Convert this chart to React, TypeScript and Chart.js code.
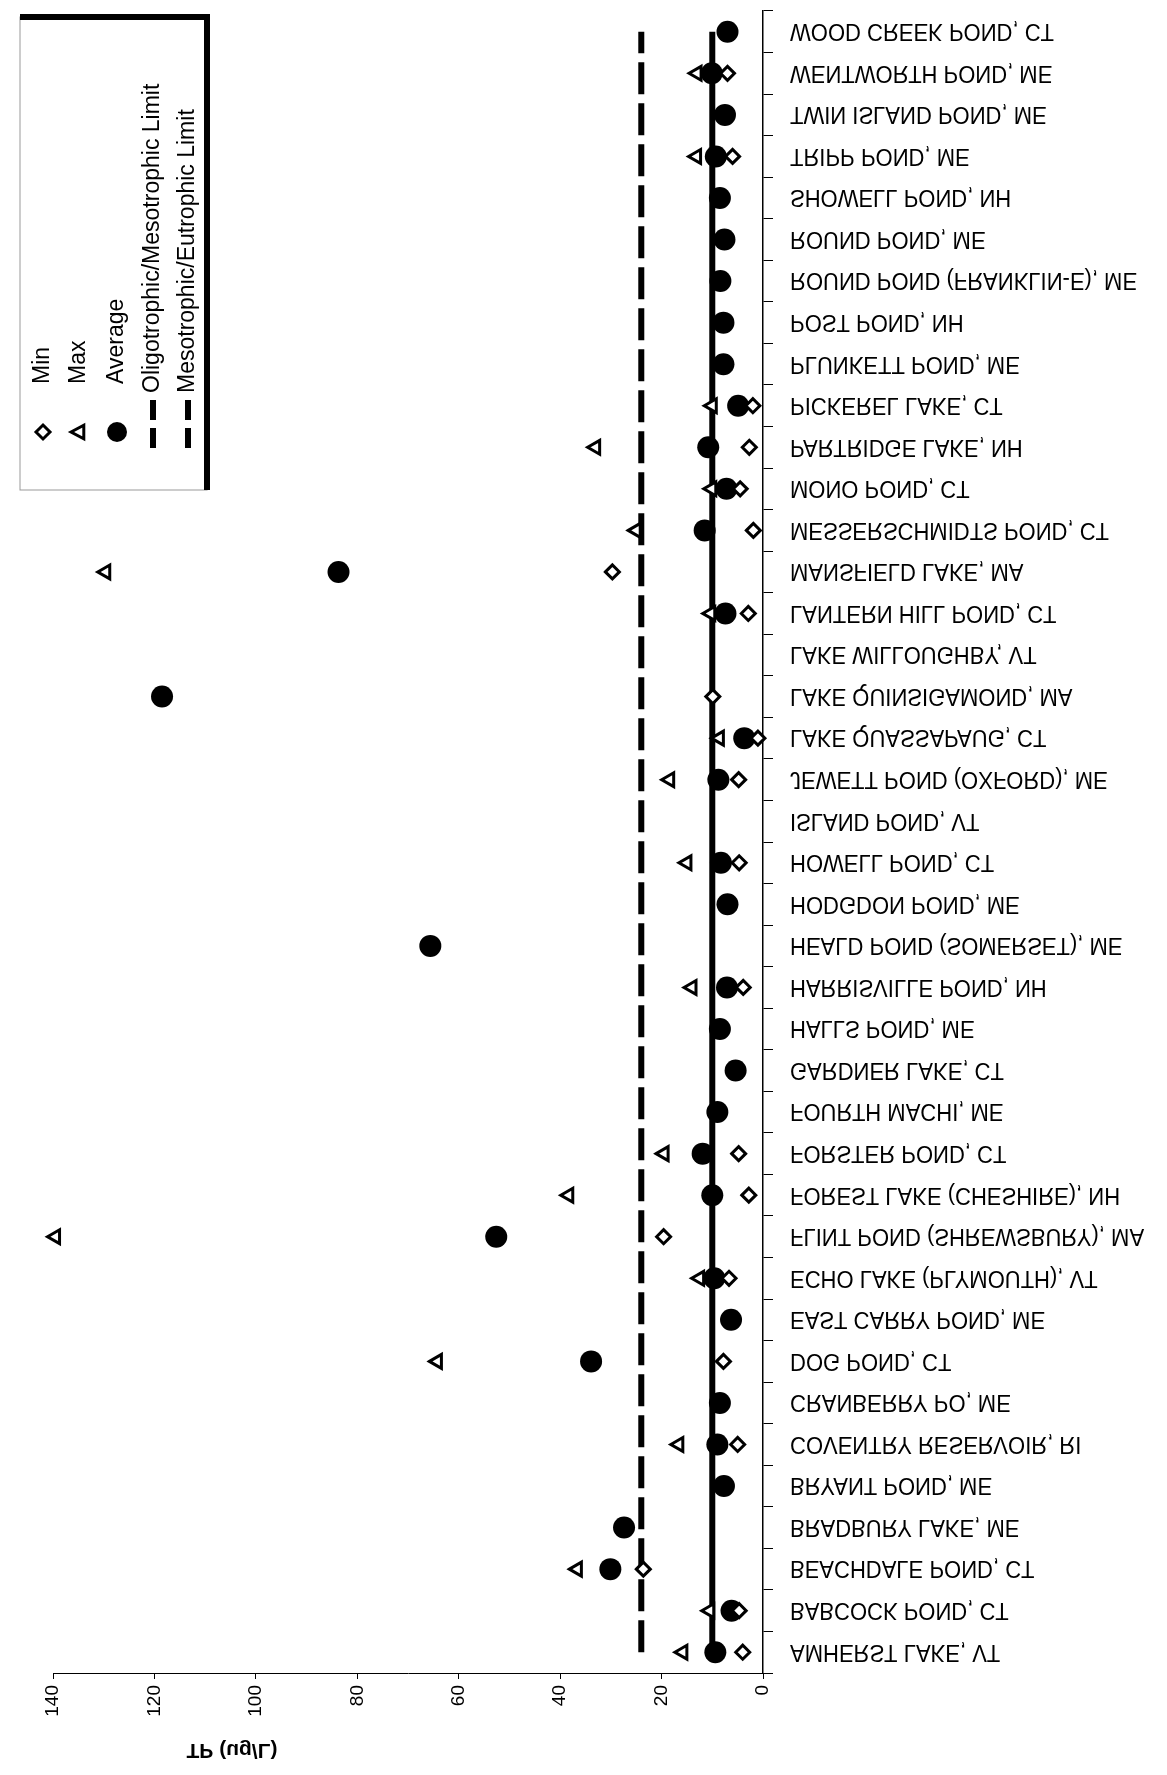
import React, { useEffect, useRef } from "react";
import { Chart, registerables } from "chart.js";

Chart.register(...registerables);

// ---- data (order: AMHERST ... WOOD CREEK) ----
const lakes = [
  "AMHERST LAKE, VT",
  "BABCOCK POND, CT",
  "BEACHDALE POND, CT",
  "BRADBURY LAKE, ME",
  "BRYANT POND, ME",
  "COVENTRY RESERVOIR, RI",
  "CRANBERRY PO, ME",
  "DOG POND, CT",
  "EAST CARRY POND, ME",
  "ECHO LAKE (PLYMOUTH), VT",
  "FLINT POND (SHREWSBURY), MA",
  "FOREST LAKE (CHESHIRE), NH",
  "FORSTER POND, CT",
  "FOURTH MACHI, ME",
  "GARDNER LAKE, CT",
  "HALLS POND, ME",
  "HARRISVILLE POND, NH",
  "HEALD POND (SOMERSET), ME",
  "HODGDON POND, ME",
  "HOWELL POND, CT",
  "ISLAND POND, VT",
  "JEWETT POND (OXFORD), ME",
  "LAKE QUASSAPAUG, CT",
  "LAKE QUINSIGAMOND, MA",
  "LAKE WILLOUGHBY, VT",
  "LANTERN HILL POND, CT",
  "MANSFIELD LAKE, MA",
  "MESSERSCHMIDTS POND, CT",
  "MONO POND, CT",
  "PARTRIDGE LAKE, NH",
  "PICKEREL LAKE, CT",
  "PLUNKETT POND, ME",
  "POST POND, NH",
  "ROUND POND (FRANKLIN-E), ME",
  "ROUND POND, ME",
  "SHOWELL POND, NH",
  "TRIPP POND, ME",
  "TWIN ISLAND POND, ME",
  "WENTWORTH POND, ME",
  "WOOD CREEK POND, CT",
];

const minTP = [
  4.0, 4.7, 23.6, null, null, 5.0, null, 7.8, null, 6.7,
  19.6, 2.8, 4.8, null, null, null, 3.9, null, null, 4.7,
  null, 4.8, 1.0, 9.9, null, 2.9, 29.7, 1.9, 4.5, 2.7,
  2.0, null, null, null, null, null, 6.0, null, 7.0, null,
];

const maxTP = [
  15.8, 10.5, 36.6, null, null, 16.6, null, 64.2, null, 12.5,
  139.5, 38.3, 19.5, null, null, null, 14.0, null, null, 15.0,
  null, 18.4, 8.6, null, null, 10.3, 129.6, 25.0, 10.1, 33.0,
  10.0, null, null, null, null, null, 13.1, null, 13.0, null,
];

const avgTP = [
  9.4, 6.2, 30.1, 27.4, 7.7, 9.0, 8.5, 33.9, 6.3, 9.6,
  52.6, 10.0, 11.9, 9.0, 5.4, 8.5, 7.1, 65.6, 7.0, 8.3,
  null, 8.8, 3.7, 118.5, null, 7.4, 83.7, 11.5, 7.2, 10.8,
  4.9, 7.8, 7.8, 8.4, 7.6, 8.5, 9.3, 7.5, 10.1, 7.0,
];

const oligoMesoLimit = 10;
const mesoEutroLimit = 24;

const valueTicks = [0, 20, 40, 60, 80, 100, 120, 140];

const legendLabels = [
  "Min",
  "Max",
  "Average",
  "Oligotrophic/Mesotrophic Limit",
  "Mesotrophic/Eutrophic Limit",
];

const axisTitle = "TP (ug/L)";

// ---- layout constants ----
const W = 1167;
const H = 1775;
const FONT = '"Liberation Sans", Arial, Helvetica, sans-serif';

const drawPointShape = (
  ctx: CanvasRenderingContext2D,
  kind: string,
  x: number,
  y: number
) => {
  ctx.save();
  ctx.lineWidth = 3;
  ctx.strokeStyle = "#000";
  ctx.fillStyle = "#fff";
  if (kind === "diamond") {
    const r = 7;
    ctx.beginPath();
    ctx.moveTo(x, y - r);
    ctx.lineTo(x + r, y);
    ctx.lineTo(x, y + r);
    ctx.lineTo(x - r, y);
    ctx.closePath();
    ctx.fill();
    ctx.stroke();
  } else if (kind === "triangle") {
    const r = 8;
    ctx.beginPath();
    ctx.moveTo(x - r, y);
    ctx.lineTo(x + r * 0.6, y - r * 0.85);
    ctx.lineTo(x + r * 0.6, y + r * 0.85);
    ctx.closePath();
    ctx.fill();
    ctx.stroke();
  } else {
    ctx.fillStyle = "#000";
    ctx.beginPath();
    ctx.arc(x, y, 10, 0, Math.PI * 2);
    ctx.fill();
  }
  ctx.restore();
};

const customDraw = {
  id: "customDraw",
  afterDraw(chart: any) {
    const ctx: CanvasRenderingContext2D = chart.ctx;
    const yScale = chart.scales.y;
    const xScale = chart.scales.x;

    // category labels (mirrored vertically as in the scan)
    ctx.save();
    ctx.fillStyle = "#000";
    ctx.font = `22px ${FONT}`;
    ctx.textAlign = "left";
    ctx.textBaseline = "middle";
    const labelX = xScale.right + 27;
    lakes.forEach((name, i) => {
      const y = yScale.getPixelForValue(i);
      ctx.save();
      ctx.translate(labelX, y);
      ctx.scale(1, -1.08);
      ctx.fillText(name, 0, 1);
      ctx.restore();
    });
    ctx.restore();

    // axis title (mirrored)
    ctx.save();
    ctx.fillStyle = "#000";
    ctx.font = `bold 21px ${FONT}`;
    ctx.textAlign = "center";
    ctx.textBaseline = "middle";
    ctx.translate(232, 1750);
    ctx.scale(1, -1);
    ctx.fillText(axisTitle, 0, 0);
    ctx.restore();

    // legend box
    ctx.save();
    const bx0 = 20, by0 = 17, bx1 = 207, by1 = 490;
    ctx.strokeStyle = "#999";
    ctx.lineWidth = 1;
    ctx.strokeRect(bx0, by0, bx1 - bx0, by1 - by0);
    ctx.fillStyle = "#000";
    ctx.fillRect(bx0, by0 - 3, bx1 - bx0 + 3, 6);
    ctx.fillRect(bx1 - 3, by0 - 3, 6, by1 - by0 + 3);

    const xs = [43, 79, 117, 153, 188];
    const kinds = ["diamond", "triangle", "circle"];
    ctx.font = `23px ${FONT}`;
    ctx.textAlign = "left";
    ctx.textBaseline = "middle";
    legendLabels.forEach((label, i) => {
      const x = xs[i];
      if (i < 3) {
        drawPointShape(ctx, kinds[i], x, 432);
        ctx.save();
        ctx.fillStyle = "#000";
        ctx.translate(x, 384);
        ctx.rotate(-Math.PI / 2);
        ctx.fillText(label, 0, 0);
        ctx.restore();
      } else {
        ctx.save();
        ctx.strokeStyle = "#000";
        ctx.lineWidth = 6;
        ctx.setLineDash([20, 8]);
        ctx.beginPath();
        ctx.moveTo(x, 448);
        ctx.lineTo(x, 396);
        ctx.stroke();
        ctx.restore();
        ctx.save();
        ctx.fillStyle = "#000";
        ctx.translate(x, 393);
        ctx.rotate(-Math.PI / 2);
        ctx.fillText(label, 0, 0);
        ctx.restore();
      }
    });
    ctx.restore();
  },
};

export default function App() {
  const canvasRef = useRef<HTMLCanvasElement | null>(null);

  useEffect(() => {
    const canvas = canvasRef.current;
    if (!canvas) return;
    const chart = new Chart(canvas, {
      type: "line",
      data: {
        labels: lakes,
        datasets: [
          {
            label: legendLabels[0],
            data: minTP,
            showLine: false,
            clip: false,
            pointStyle: "rectRot",
            pointRadius: 7,
            pointBorderWidth: 3,
            pointBackgroundColor: "#fff",
            pointBorderColor: "#000",
            borderColor: "#000",
            backgroundColor: "#fff",
          },
          {
            label: legendLabels[1],
            data: maxTP,
            showLine: false,
            clip: false,
            pointStyle: "triangle",
            pointRotation: -90,
            pointRadius: 8,
            pointBorderWidth: 3,
            pointBackgroundColor: "#fff",
            pointBorderColor: "#000",
            borderColor: "#000",
            backgroundColor: "#fff",
          },
          {
            label: legendLabels[2],
            data: avgTP,
            showLine: false,
            clip: false,
            pointStyle: "circle",
            pointRadius: 11,
            pointBorderWidth: 0,
            pointBackgroundColor: "#000",
            pointBorderColor: "#000",
            borderColor: "#000",
            backgroundColor: "#000",
          },
          {
            label: legendLabels[3],
            data: lakes.map(() => oligoMesoLimit),
            borderColor: "#000",
            borderWidth: 6,
            pointRadius: 0,
            fill: false,
          },
          {
            label: legendLabels[4],
            data: lakes.map(() => mesoEutroLimit),
            borderColor: "#000",
            borderWidth: 6,
            borderDash: [32, 9],
            pointRadius: 0,
            fill: false,
          },
        ],
      },
      options: {
        indexAxis: "y",
        animation: false,
        responsive: true,
        maintainAspectRatio: false,
        devicePixelRatio: 1,
        layout: { padding: { left: 53, top: 10, right: 0, bottom: 0 } },
        plugins: {
          legend: { display: false },
          tooltip: { enabled: false },
        },
        scales: {
          x: {
            type: "linear",
            position: "bottom",
            reverse: true,
            min: 0,
            max: 140,
            afterBuildTicks: (s: any) => {
              s.ticks = valueTicks.map((v) => ({ value: v }));
            },
            afterFit: (s: any) => {
              s.height = 102;
            },
            ticks: {
              minRotation: 90,
              maxRotation: 90,
              padding: 6,
              color: "#000",
              font: { size: 19, family: FONT },
            },
            grid: {
              drawOnChartArea: false,
              drawTicks: true,
              tickLength: 6,
              color: "#000",
            },
            border: { display: true, color: "#000", width: 1 },
          },
          y: {
            type: "category",
            position: "right",
            reverse: true,
            offset: true,
            afterFit: (s: any) => {
              s.width = W - 763;
            },
            ticks: { display: false },
            grid: {
              offset: true,
              drawOnChartArea: false,
              drawTicks: true,
              tickLength: 10,
              color: "#000",
            },
            border: { display: true, color: "#000", width: 1.5 },
          },
        },
      },
      plugins: [customDraw],
    });
    return () => chart.destroy();
  }, []);

  return (
    <div
      style={{
        position: "absolute",
        left: 0,
        top: 0,
        width: W,
        height: H,
        background: "#fff",
      }}
    >
      <canvas ref={canvasRef} />
    </div>
  );
}
